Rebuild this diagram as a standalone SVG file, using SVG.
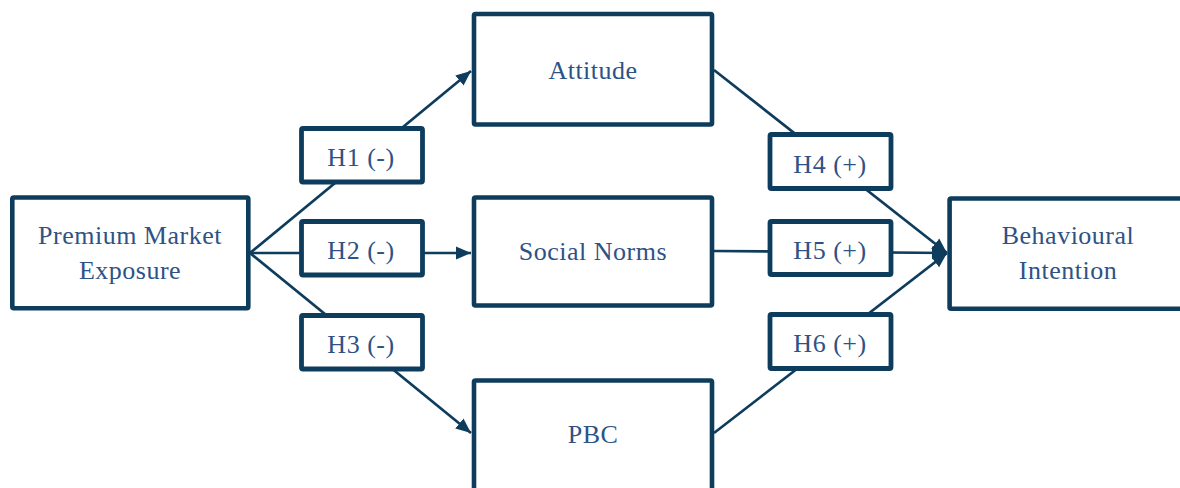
<svg xmlns="http://www.w3.org/2000/svg" width="1180" height="488" viewBox="0 0 1180 488">
<style>
.box{fill:#ffffff;stroke:#0e3c5c;stroke-width:4.6;stroke-linejoin:round}
.hb{fill:#ffffff;stroke:#0e3c5c;stroke-width:4.8;stroke-linejoin:round}
.ln{stroke:#0e3c5c;stroke-width:2.7;fill:none}
.t{font-family:"Liberation Serif","Times New Roman",serif;font-size:26px;fill:#2e5286;text-anchor:middle;letter-spacing:0.5px}
</style>
<defs>
<marker id="ah" markerUnits="userSpaceOnUse" markerWidth="16" markerHeight="14" refX="15" refY="7" orient="auto">
<path d="M0,0.5 L15,7 L0,13.5 Z" fill="#0e3c5c"/>
</marker>
</defs>
<g id="connectors">
<line class="ln" x1="250" y1="253" x2="471" y2="71" marker-end="url(#ah)"/>
<line class="ln" x1="250" y1="253" x2="471" y2="253" marker-end="url(#ah)"/>
<line class="ln" x1="250" y1="253" x2="471" y2="433" marker-end="url(#ah)"/>
<line class="ln" x1="714" y1="70" x2="947" y2="253" marker-end="url(#ah)"/>
<line class="ln" x1="714" y1="251" x2="947" y2="253" marker-end="url(#ah)"/>
<line class="ln" x1="714" y1="433" x2="947" y2="253" marker-end="url(#ah)"/>
</g>
<g id="premium">
<rect class="box" x="12.3" y="197.5" width="236" height="110.8" rx="1.5"/>
<text class="t" x="130" y="244">Premium Market</text>
<text class="t" x="130" y="279">Exposure</text>
</g>
<g id="attitude">
<rect class="box" x="474" y="14" width="238" height="110.5" rx="1.5"/>
<text class="t" x="593" y="79">Attitude</text>
</g>
<g id="social">
<rect class="box" x="474" y="197.5" width="238" height="108" rx="1.5"/>
<text class="t" x="593" y="260">Social Norms</text>
</g>
<g id="pbc">
<rect class="box" x="474" y="380.5" width="238" height="112" rx="1.5"/>
<text class="t" x="593" y="443">PBC</text>
</g>
<g id="intention">
<rect class="box" x="949.6" y="198.5" width="240" height="110.2" rx="1.5"/>
<text class="t" x="1068" y="244">Behavioural</text>
<text class="t" x="1068" y="279">Intention</text>
</g>
<g id="h1">
<rect class="hb" x="301.5" y="128.5" width="121" height="53.5" rx="1.5"/>
<text class="t" x="361" y="166">H1 (-)</text>
</g>
<g id="h2">
<rect class="hb" x="301.5" y="221.5" width="121" height="53.5" rx="1.5"/>
<text class="t" x="361" y="259">H2 (-)</text>
</g>
<g id="h3">
<rect class="hb" x="301.5" y="315.5" width="121" height="53.5" rx="1.5"/>
<text class="t" x="361" y="353">H3 (-)</text>
</g>
<g id="h4">
<rect class="hb" x="770" y="134.5" width="121" height="54" rx="1.5"/>
<text class="t" x="830" y="173">H4 (+)</text>
</g>
<g id="h5">
<rect class="hb" x="770" y="221.5" width="121" height="53" rx="1.5"/>
<text class="t" x="830" y="259">H5 (+)</text>
</g>
<g id="h6">
<rect class="hb" x="770" y="314.5" width="121" height="54" rx="1.5"/>
<text class="t" x="830" y="352">H6 (+)</text>
</g>
</svg>
